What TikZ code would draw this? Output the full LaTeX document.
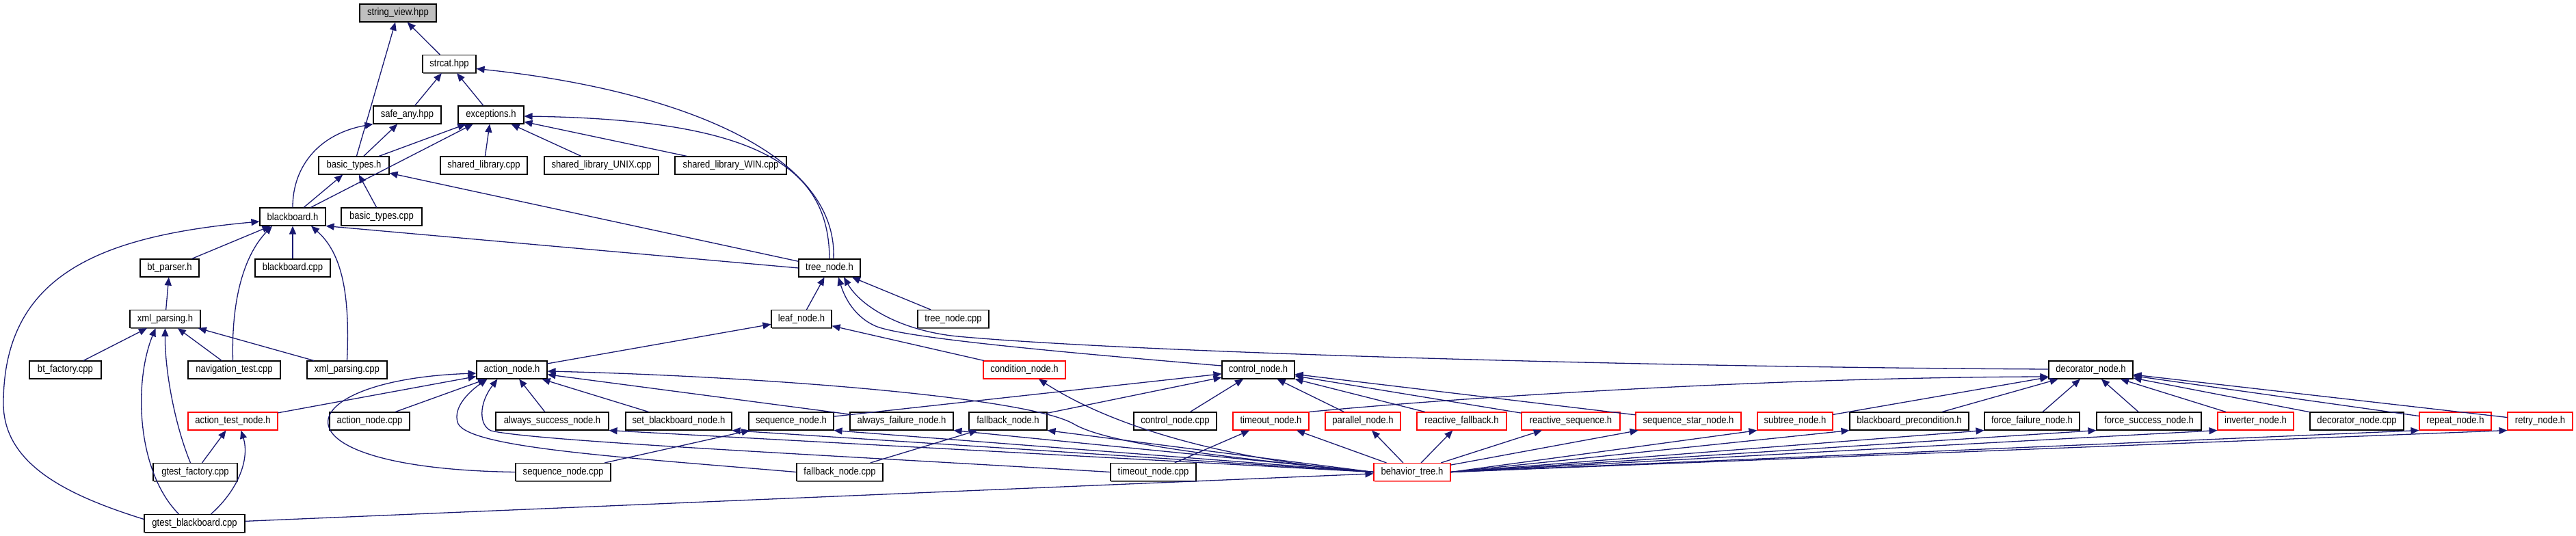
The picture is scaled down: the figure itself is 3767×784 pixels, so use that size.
\documentclass[tikz,border=0pt]{standalone}
\usepackage{fontspec}
\setmainfont{Liberation Sans}[FakeStretch=0.87]
\usepackage{tikz}
\usetikzlibrary{arrows.meta,shadows}
\definecolor{edg}{rgb}{0.10,0.10,0.44}
\definecolor{cur}{rgb}{0.75,0.75,0.75}

\begin{document}
\begin{tikzpicture}[x=1pt,y=-1pt,>={Triangle[length=12pt,width=10pt]},
  font=\fontsize{15}{18}\selectfont,
  nd/.style={draw,line width=1.1pt,fill=white,minimum height=26pt,inner sep=0pt},
  fil/.style={nd,drop shadow={shadow xshift=1.2pt,shadow yshift=-1.2pt,fill=black!60,opacity=1}},
  trc/.style={nd,draw=red,drop shadow={shadow xshift=1.2pt,shadow yshift=-1.2pt,fill=red!50,opacity=1}},
  dep/.style={->,draw=edg,line width=1.3pt}]
\useasboundingbox (0,0) rectangle (3767,784);
\node[fil,fill=cur,minimum width=112pt] (sv) at (582,19) {string\_view.hpp};
\node[fil,minimum width=78pt] (sc) at (657,93.5) {strcat.hpp};
\node[fil,minimum width=99pt] (sa) at (595.5,168) {safe\_any.hpp};
\node[fil,minimum width=96pt] (ex) at (718,168) {exceptions.h};
\node[fil,minimum width=103pt] (bth) at (517.5,242) {basic\_types.h};
\node[fil,minimum width=127pt] (sl) at (707.5,242) {shared\_library.cpp};
\node[fil,minimum width=167pt] (slu) at (879.5,242) {shared\_library\_UNIX.cpp};
\node[fil,minimum width=163pt] (slw) at (1068.5,242) {shared\_library\_WIN.cpp};
\node[fil,minimum width=96pt] (bb) at (428,317) {blackboard.h};
\node[fil,minimum width=118pt] (btc) at (558,317) {basic\_types.cpp};
\node[fil,minimum width=86pt] (bp) at (248,392) {bt\_parser.h};
\node[fil,minimum width=110pt] (bbc) at (428,392) {blackboard.cpp};
\node[fil,minimum width=90pt] (tn) at (1213,392) {tree\_node.h};
\node[fil,minimum width=103pt] (xp) at (241.5,466.5) {xml\_parsing.h};
\node[fil,minimum width=88pt] (ln) at (1172,466.5) {leaf\_node.h};
\node[fil,minimum width=104pt] (tnc) at (1394,466.5) {tree\_node.cpp};
\node[fil,minimum width=105pt] (bf) at (95.5,541) {bt\_factory.cpp};
\node[fil,minimum width=135pt] (nt) at (342.5,541) {navigation\_test.cpp};
\node[fil,minimum width=117pt] (xpc) at (507.5,541) {xml\_parsing.cpp};
\node[fil,minimum width=103pt] (an) at (748.5,541) {action\_node.h};
\node[trc,minimum width=120pt] (cd) at (1498,541) {condition\_node.h};
\node[fil,minimum width=106pt] (cn) at (1840,541) {control\_node.h};
\node[fil,minimum width=123pt] (dn) at (3057.5,541) {decorator\_node.h};
\node[trc,minimum width=131pt] (atn) at (340.5,616) {action\_test\_node.h};
\node[fil,minimum width=117pt] (anc) at (540.5,616) {action\_node.cpp};
\node[fil,minimum width=165pt] (asn) at (807.5,616) {always\_success\_node.h};
\node[fil,minimum width=155pt] (sbn) at (992.5,616) {set\_blackboard\_node.h};
\node[fil,minimum width=124pt] (sqn) at (1157,616) {sequence\_node.h};
\node[fil,minimum width=151pt] (afn) at (1318.5,616) {always\_failure\_node.h};
\node[fil,minimum width=114pt] (fbn) at (1474,616) {fallback\_node.h};
\node[fil,minimum width=121pt] (cnc) at (1718.5,616) {control\_node.cpp};
\node[trc,minimum width=111pt] (ton) at (1858.5,616) {timeout\_node.h};
\node[trc,minimum width=110pt] (pn) at (1993,616) {parallel\_node.h};
\node[trc,minimum width=131pt] (rf) at (2137.5,616) {reactive\_fallback.h};
\node[trc,minimum width=144pt] (rs) at (2297,616) {reactive\_sequence.h};
\node[trc,minimum width=154pt] (ss) at (2469,616) {sequence\_star\_node.h};
\node[trc,minimum width=110pt] (st) at (2625,616) {subtree\_node.h};
\node[fil,minimum width=174pt] (bpc) at (2792,616) {blackboard\_precondition.h};
\node[fil,minimum width=139pt] (ff) at (2971.5,616) {force\_failure\_node.h};
\node[fil,minimum width=153pt] (fs) at (3142.5,616) {force\_success\_node.h};
\node[trc,minimum width=111pt] (inv) at (3298.5,616) {inverter\_node.h};
\node[fil,minimum width=137pt] (dnc) at (3446.5,616) {decorator\_node.cpp};
\node[trc,minimum width=105pt] (rp) at (3590.5,616) {repeat\_node.h};
\node[trc,minimum width=95pt] (rt) at (3714.5,616) {retry\_node.h};
\node[fil,minimum width=123pt] (gf) at (285.5,690.5) {gtest\_factory.cpp};
\node[fil,minimum width=139pt] (sqc) at (823.5,690.5) {sequence\_node.cpp};
\node[fil,minimum width=126pt] (fbc) at (1228,690.5) {fallback\_node.cpp};
\node[fil,minimum width=125pt] (toc) at (1686.5,690.5) {timeout\_node.cpp};
\node[trc,minimum width=112pt] (btr) at (2065,690.5) {behavior\_tree.h};
\node[fil,minimum width=147pt] (gb) at (284.5,765.5) {gtest\_blackboard.cpp};
\draw[dep] (sc) -- (sv); \draw[dep] (bth) -- (sv);
\draw[dep] (sa) -- (sc); \draw[dep] (ex) -- (sc);
\draw[dep] ([xshift=6pt]tn.north) .. controls (1225,220) and (980,130) .. ([yshift=-7pt]sc.east);
\draw[dep] (tn.north) .. controls (1212,250) and (1120,175) .. ([yshift=-2pt]ex.east);
\draw[dep] (bth) -- (sa);
\draw[dep] (bb.north) .. controls (428,240) and (470,195) .. (sa.south west);
\draw[dep] (bth) -- (ex); \draw[dep] (bb) -- (ex);
\draw[dep] (sl) -- (ex); \draw[dep] (slu) -- (ex); \draw[dep] (slw) -- (ex);
\draw[dep] (bb) -- (bth); \draw[dep] (btc) -- (bth); \draw[dep] (tn) -- (bth);
\draw[dep] (tn.west) -- (bb.south east);
\draw[dep] (bp) -- (bb); \draw[dep] (bbc) -- (bb);
\draw[dep] ([yshift=6pt]gb.west) .. controls (100,725) and (5,680) .. (5,590) .. controls (5,400) and (150,345) .. ([yshift=-7pt]bb.west);
\draw[dep] ([xshift=-2pt]nt.north) .. controls (338,430) and (360,370) .. ([xshift=-30pt]bb.south);
\draw[dep] (xpc.north) .. controls (512,430) and (500,370) .. ([xshift=27pt]bb.south);
\draw[dep] (xp) -- (bp);
\draw[dep] (bf) -- (xp); \draw[dep] (nt) -- (xp); \draw[dep] (xpc) -- (xp);
\draw[dep] ([xshift=-7pt]gf.north) .. controls (255,620) and (241,540) .. (xp.south);
\draw[dep] ([xshift=-23pt]gb.north) .. controls (200,690) and (195,560) .. ([xshift=-14pt]xp.south);
\draw[dep] (ln) -- (tn); \draw[dep] (tnc) -- (tn);
\draw[dep] ([yshift=6pt]cn.west) .. controls (1550,515) and (1330,495) .. (1283,478) .. controls (1250,465) and (1235,435) .. ([xshift=13pt]tn.south);
\draw[dep] ([yshift=1pt]dn.west) .. controls (2400,537) and (1650,515) .. (1400,492) .. controls (1320,484) and (1260,450) .. ([xshift=21pt]tn.south);
\draw[dep] (an) -- (ln); \draw[dep] (cd) -- (ln);
\draw[dep] (atn) -- (an); \draw[dep] (anc) -- (an); \draw[dep] (asn) -- (an);
\draw[dep] (sbn) -- (an); \draw[dep] (afn) -- (an);
\draw[dep] (sqc.west) .. controls (380,685) and (420,555) .. ([yshift=-5pt]an.west);
\draw[dep] (fbc.west) .. controls (900,668) and (690,655) .. (670,620) .. controls (660,595) and (690,570) .. ([xshift=-36pt]an.south);
\draw[dep] (toc.west) .. controls (1200,665) and (780,645) .. (718,630) .. controls (700,622) and (700,590) .. ([xshift=-21pt]an.south);
\draw[dep] (btr.west) .. controls (1800,670) and (1620,650) .. (1570,620) .. controls (1500,580) and (1100,550) .. ([yshift=-2pt]an.east);
\draw[dep] (gf) -- (atn);
\draw[dep] ([xshift=24pt]gb.north) .. controls (350,715) and (365,670) .. ([xshift=12pt]atn.south);
\draw[dep] (gb) -- (btr);
\draw[dep] (sqc) -- (sqn); \draw[dep] (fbc) -- (fbn); \draw[dep] (toc) -- (ton);
\draw[dep] (sqn) -- (cn); \draw[dep] (fbn) -- (cn); \draw[dep] (cnc) -- (cn);
\draw[dep] (pn) -- (cn); \draw[dep] (rf) -- (cn); \draw[dep] (rs) -- (cn); \draw[dep] (ss) -- (cn);
\draw[dep] (ton.north east) .. controls (2150,580) and (2600,552) .. ([yshift=-10pt]dn.west);
\draw[dep] (st) -- (dn); \draw[dep] (bpc) -- (dn); \draw[dep] (ff) -- (dn); \draw[dep] (fs) -- (dn);
\draw[dep] (inv) -- (dn); \draw[dep] (dnc) -- (dn); \draw[dep] (rp) -- (dn); \draw[dep] (rt) -- (dn);
\draw[dep] (btr.west) .. controls (1780,672) and (1620,620) .. ([xshift=21pt]cd.south);
\draw[dep] (btr.west) -- (asn.south east); \draw[dep] (btr.west) -- (sbn.south east);
\draw[dep] (btr.west) -- (sqn.south east); \draw[dep] (btr.west) -- (afn.south east);
\draw[dep] (btr.west) -- (fbn.south east);
\draw[dep] (btr) -- (ton); \draw[dep] (btr) -- (pn); \draw[dep] (btr) -- (rf);
\draw[dep] (btr) -- (rs); \draw[dep] (btr) -- (ss);
\draw[dep] (btr.east) -- (st.south west); \draw[dep] (btr.east) -- (bpc.south west);
\draw[dep] (btr.east) -- (ff.south west); \draw[dep] (btr.east) -- (fs.south west);
\draw[dep] (btr.east) -- (inv.south west); \draw[dep] (btr.east) -- (rp.south west);
\draw[dep] (btr.east) -- (rt.south west);
\end{tikzpicture}
\end{document}
